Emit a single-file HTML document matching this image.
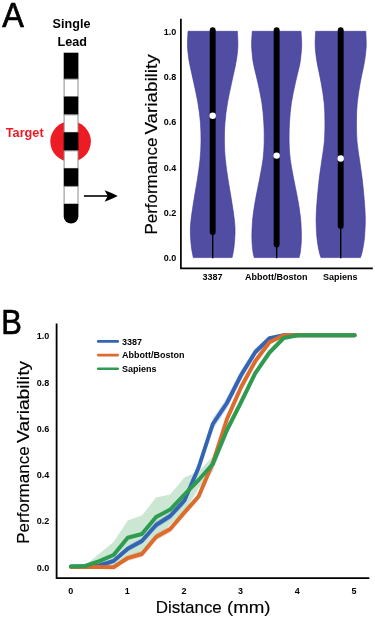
<!DOCTYPE html><html><head><meta charset="utf-8"><title>Figure</title><style>html,body{margin:0;padding:0;background:#fff}svg{display:block}text{font-family:"Liberation Sans",Arial,sans-serif;fill:#000}.b{font-weight:bold}.lab text{stroke:#000;stroke-width:0.15px}.big{stroke:#000;stroke-width:0.7px}</style></head><body>
<svg width="375" height="618" viewBox="0 0 375 618">
<rect width="375" height="618" fill="#fff"/>
<text class="big" x="2.3" y="27.3" font-size="35.5" textLength="21.6" lengthAdjust="spacingAndGlyphs">A</text>
<text class="big" x="1.2" y="334.3" font-size="35.5" textLength="20.6" lengthAdjust="spacingAndGlyphs">B</text>
<text class="b" x="71.5" y="28" font-size="12.6" text-anchor="middle">Single</text>
<text class="b" x="72.3" y="45.9" font-size="12.6" text-anchor="middle">Lead</text>
<circle cx="70.6" cy="141.5" r="20.3" fill="#ed1c24"/>
<text class="b" x="5.8" y="137.4" font-size="12.7" style="fill:#ed1c24">Target</text>
<rect x="63.7" y="52.7" width="14.7" height="26.4" fill="#000"/>
<rect x="64.10000000000001" y="79.1" width="13.9" height="17.6" fill="#fff" stroke="#8c8c8c" stroke-width="1"/>
<rect x="63.7" y="96.7" width="14.7" height="18.1" fill="#000"/>
<rect x="64.10000000000001" y="114.8" width="13.9" height="17.6" fill="#fff" stroke="#8c8c8c" stroke-width="1"/>
<rect x="63.7" y="132.4" width="14.7" height="18.4" fill="#000"/>
<rect x="64.10000000000001" y="150.8" width="13.9" height="17.6" fill="#fff" stroke="#8c8c8c" stroke-width="1"/>
<rect x="63.7" y="168.4" width="14.7" height="18.0" fill="#000"/>
<rect x="64.10000000000001" y="186.4" width="13.9" height="17.5" fill="#fff" stroke="#8c8c8c" stroke-width="1"/>
<path d="M63.7,203.9H78.4V216.25A7.35,7.35 0 0 1 63.7,216.25Z" fill="#000"/>
<line x1="83.9" y1="196" x2="109" y2="196" stroke="#000" stroke-width="1.6"/>
<path d="M117.8,196Q111.5,192.8 104.6,190.3L107.8,196L104.6,201.7Q111.5,199.2 117.8,196Z" fill="#000"/>
<path d="M180.9,18.8V268.3H372.8" fill="none" stroke="#000" stroke-width="1.7"/>
<text class="b" x="176.3" y="261.45" font-size="9" text-anchor="end">0.0</text>
<text class="b" x="176.3" y="216.11" font-size="9" text-anchor="end">0.2</text>
<text class="b" x="176.3" y="170.77" font-size="9" text-anchor="end">0.4</text>
<text class="b" x="176.3" y="125.43" font-size="9" text-anchor="end">0.6</text>
<text class="b" x="176.3" y="80.09" font-size="9" text-anchor="end">0.8</text>
<text class="b" x="176.3" y="34.75" font-size="9" text-anchor="end">1.0</text>
<path d="M188.00,31.30C187.92,33.48 187.47,40.58 187.50,44.40C187.53,48.22 187.83,50.95 188.20,54.20C188.57,57.45 188.75,59.05 189.70,63.90C190.65,68.75 192.53,76.82 193.90,83.30C195.27,89.78 196.82,96.32 197.90,102.80C198.98,109.28 199.88,115.72 200.40,122.20C200.92,128.68 201.06,135.50 201.00,141.70C200.94,147.90 200.64,153.20 200.05,159.40C199.46,165.60 198.42,172.42 197.45,178.90C196.47,185.38 195.22,191.82 194.20,198.30C193.17,204.78 191.94,212.28 191.30,217.80C190.66,223.32 190.33,226.53 190.35,231.40C190.37,236.27 190.91,242.63 191.40,247.00C191.89,251.37 192.98,255.83 193.30,257.60L232.10,257.60C232.42,255.83 233.51,251.37 234.00,247.00C234.49,242.63 235.03,236.27 235.05,231.40C235.07,226.53 234.74,223.32 234.10,217.80C233.46,212.28 232.22,204.78 231.20,198.30C230.17,191.82 228.92,185.38 227.95,178.90C226.97,172.42 225.94,165.60 225.35,159.40C224.76,153.20 224.46,147.90 224.40,141.70C224.34,135.50 224.48,128.68 225.00,122.20C225.52,115.72 226.42,109.28 227.50,102.80C228.58,96.32 230.13,89.78 231.50,83.30C232.87,76.82 234.75,68.75 235.70,63.90C236.65,59.05 236.83,57.45 237.20,54.20C237.57,50.95 237.87,48.22 237.90,44.40C237.93,40.58 237.48,33.48 237.40,31.30Z" fill="#504da3" stroke="#3936a0" stroke-width="0.6" stroke-linejoin="round"/>
<path d="M252.25,31.30C252.14,33.48 251.60,40.58 251.60,44.40C251.60,48.22 251.93,50.95 252.25,54.20C252.57,57.45 252.54,59.05 253.50,63.90C254.46,68.75 256.60,76.82 258.00,83.30C259.40,89.78 260.93,96.32 261.90,102.80C262.87,109.28 263.42,115.72 263.80,122.20C264.18,128.68 264.33,135.50 264.20,141.70C264.07,147.90 263.77,153.20 263.00,159.40C262.23,165.60 260.81,172.42 259.60,178.90C258.39,185.38 256.88,191.82 255.75,198.30C254.62,204.78 253.44,211.32 252.80,217.80C252.16,224.28 251.90,231.70 251.90,237.20C251.90,242.70 252.42,247.40 252.80,250.80C253.18,254.20 253.97,256.47 254.20,257.60L299.10,257.60C299.33,256.47 300.12,254.20 300.50,250.80C300.88,247.40 301.40,242.70 301.40,237.20C301.40,231.70 301.14,224.28 300.50,217.80C299.86,211.32 298.68,204.78 297.55,198.30C296.42,191.82 294.91,185.38 293.70,178.90C292.49,172.42 291.07,165.60 290.30,159.40C289.53,153.20 289.23,147.90 289.10,141.70C288.97,135.50 289.12,128.68 289.50,122.20C289.88,115.72 290.43,109.28 291.40,102.80C292.37,96.32 293.90,89.78 295.30,83.30C296.70,76.82 298.84,68.75 299.80,63.90C300.76,59.05 300.73,57.45 301.05,54.20C301.37,50.95 301.70,48.22 301.70,44.40C301.70,40.58 301.16,33.48 301.05,31.30Z" fill="#504da3" stroke="#3936a0" stroke-width="0.6" stroke-linejoin="round"/>
<path d="M315.60,31.30C315.52,33.48 315.10,40.58 315.15,44.40C315.20,48.22 315.53,50.95 315.90,54.20C316.27,57.45 316.46,59.05 317.35,63.90C318.24,68.75 320.12,76.82 321.25,83.30C322.38,89.78 323.53,96.32 324.15,102.80C324.77,109.28 324.92,115.72 324.95,122.20C324.98,128.68 324.85,135.50 324.35,141.70C323.85,147.90 322.81,153.20 321.95,159.40C321.09,165.60 319.97,172.42 319.20,178.90C318.43,185.38 317.82,191.82 317.30,198.30C316.78,204.78 316.17,211.32 316.10,217.80C316.03,224.28 316.42,231.70 316.90,237.20C317.38,242.70 318.32,247.40 319.00,250.80C319.68,254.20 320.62,256.47 320.95,257.60L360.45,257.60C360.77,256.47 361.72,254.20 362.40,250.80C363.07,247.40 364.02,242.70 364.50,237.20C364.98,231.70 365.37,224.28 365.30,217.80C365.23,211.32 364.62,204.78 364.10,198.30C363.58,191.82 362.97,185.38 362.20,178.90C361.43,172.42 360.31,165.60 359.45,159.40C358.59,153.20 357.55,147.90 357.05,141.70C356.55,135.50 356.42,128.68 356.45,122.20C356.48,115.72 356.63,109.28 357.25,102.80C357.87,96.32 359.02,89.78 360.15,83.30C361.28,76.82 363.16,68.75 364.05,63.90C364.94,59.05 365.13,57.45 365.50,54.20C365.87,50.95 366.20,48.22 366.25,44.40C366.30,40.58 365.88,33.48 365.80,31.30Z" fill="#504da3" stroke="#3936a0" stroke-width="0.6" stroke-linejoin="round"/>
<line x1="212.7" y1="30.3" x2="212.7" y2="232" stroke="#000" stroke-width="5.9" stroke-linecap="round"/><line x1="212.7" y1="232" x2="212.7" y2="258.2" stroke="#000" stroke-width="1.4"/><circle cx="212.7" cy="115.8" r="3.2" fill="#fff"/>
<line x1="276.65" y1="30.3" x2="276.65" y2="244.5" stroke="#000" stroke-width="5.9" stroke-linecap="round"/><line x1="276.65" y1="244.5" x2="276.65" y2="258.2" stroke="#000" stroke-width="1.4"/><circle cx="276.65" cy="155.6" r="3.2" fill="#fff"/>
<line x1="340.7" y1="30.3" x2="340.7" y2="226" stroke="#000" stroke-width="5.9" stroke-linecap="round"/><line x1="340.7" y1="226" x2="340.7" y2="258.2" stroke="#000" stroke-width="1.4"/><circle cx="340.7" cy="158.5" r="3.2" fill="#fff"/>
<text class="b" x="212.6" y="280" font-size="9" text-anchor="middle">3387</text>
<text class="b" x="276.3" y="280" font-size="9" text-anchor="middle">Abbott/Boston</text>
<text class="b" x="340.3" y="280" font-size="9" text-anchor="middle">Sapiens</text>
<g transform="translate(157.2,0) rotate(-90)" class="lab"><text x="-234.6" y="0" font-size="17" textLength="97" lengthAdjust="spacingAndGlyphs">Performance</text><text x="-134.6" y="0" font-size="17" textLength="80.2" lengthAdjust="spacingAndGlyphs">Variability</text></g>
<polygon points="71.00,566.50 85.18,566.50 99.36,564.50 113.54,559.00 127.72,545.70 141.90,538.00 156.08,521.50 170.26,512.50 184.44,496.50 198.62,462.50 212.80,418.50 226.98,397.50 241.16,370.00 255.34,348.00 269.52,336.20 283.70,335.20 297.88,335.20 312.06,335.20 326.24,335.20 340.42,335.20 354.60,335.20 354.60,335.20 340.42,335.20 326.24,335.20 312.06,335.20 297.88,335.20 283.70,335.20 269.52,340.20 255.34,356.00 241.16,380.00 226.98,408.50 212.80,429.50 198.62,472.50 184.44,504.50 170.26,519.50 156.08,528.50 141.90,544.00 127.72,551.70 113.54,563.00 99.36,566.50 85.18,566.50 71.00,566.50" fill="#3465b5" fill-opacity="0.25"/>
<polygon points="71.00,567.00 85.18,567.00 99.36,567.00 113.54,566.20 127.72,555.00 141.90,551.00 156.08,533.50 170.26,525.50 184.44,509.00 198.62,493.00 212.80,459.00 226.98,415.00 241.16,383.00 255.34,357.50 269.52,339.80 283.70,335.30 297.88,335.20 312.06,335.20 326.24,335.20 340.42,335.20 354.60,335.20 354.60,335.20 340.42,335.20 326.24,335.20 312.06,335.20 297.88,335.20 283.70,335.30 269.52,344.80 255.34,364.50 241.16,391.00 226.98,423.00 212.80,467.00 198.62,500.00 184.44,516.00 170.26,532.50 156.08,540.50 141.90,557.00 127.72,561.00 113.54,567.00 99.36,567.00 85.18,567.00 71.00,567.00" fill="#dd6b2e" fill-opacity="0.25"/>
<polygon points="71.00,566.50 85.18,565.50 99.36,553.70 113.54,542.00 127.72,520.50 141.90,515.50 156.08,497.50 170.26,494.40 184.44,477.50 198.62,471.50 212.80,456.50 226.98,425.00 241.16,399.00 255.34,371.00 269.52,351.00 283.70,337.50 297.88,335.20 312.06,335.20 326.24,335.20 340.42,335.20 354.60,335.20 354.60,335.20 340.42,335.20 326.24,335.20 312.06,335.20 297.88,335.20 283.70,338.50 269.52,354.00 255.34,375.00 241.16,405.00 226.98,435.00 212.80,471.50 198.62,488.50 184.44,511.50 170.26,524.80 156.08,536.50 141.90,552.50 127.72,555.10 113.54,567.00 99.36,567.00 85.18,566.50 71.00,566.50" fill="#2e9b50" fill-opacity="0.25"/>
<polyline points="71.00,566.50 85.18,566.50 99.36,565.50 113.54,561.00 127.72,548.70 141.90,541.00 156.08,525.00 170.26,516.00 184.44,500.50 198.62,467.50 212.80,424.00 226.98,403.00 241.16,375.00 255.34,352.00 269.52,338.20 283.70,335.20 297.88,335.20 312.06,335.20 326.24,335.20 340.42,335.20 354.60,335.20" fill="none" stroke="#3465b5" stroke-width="4" stroke-linejoin="round" stroke-linecap="round"/>
<polyline points="71.00,567.00 85.18,567.00 99.36,567.00 113.54,567.20 127.72,558.00 141.90,554.00 156.08,537.00 170.26,529.00 184.44,512.50 198.62,496.50 212.80,463.00 226.98,419.00 241.16,387.00 255.34,361.00 269.52,342.30 283.70,335.30 297.88,335.20 312.06,335.20 326.24,335.20 340.42,335.20 354.60,335.20" fill="none" stroke="#dd6b2e" stroke-width="4" stroke-linejoin="round" stroke-linecap="round"/>
<polyline points="71.00,566.50 85.18,566.00 99.36,561.20 113.54,555.00 127.72,537.80 141.90,534.00 156.08,517.00 170.26,509.60 184.44,494.50 198.62,480.00 212.80,464.00 226.98,430.00 241.16,402.00 255.34,373.00 269.52,352.50 283.70,338.00 297.88,335.20 312.06,335.20 326.24,335.20 340.42,335.20 354.60,335.20" fill="none" stroke="#2e9b50" stroke-width="4" stroke-linejoin="round" stroke-linecap="round"/>
<path d="M56.6,323.5V578.2H369.3" fill="none" stroke="#000" stroke-width="1.8"/>
<text class="b" x="49.3" y="570.65" font-size="9" text-anchor="end">0.0</text>
<text class="b" x="49.3" y="524.39" font-size="9" text-anchor="end">0.2</text>
<text class="b" x="49.3" y="478.13" font-size="9" text-anchor="end">0.4</text>
<text class="b" x="49.3" y="431.87" font-size="9" text-anchor="end">0.6</text>
<text class="b" x="49.3" y="385.61" font-size="9" text-anchor="end">0.8</text>
<text class="b" x="49.3" y="339.35" font-size="9" text-anchor="end">1.0</text>
<text class="b" x="70.70" y="593.8" font-size="9" text-anchor="middle">0</text>
<text class="b" x="127.34" y="593.8" font-size="9" text-anchor="middle">1</text>
<text class="b" x="183.98" y="593.8" font-size="9" text-anchor="middle">2</text>
<text class="b" x="240.62" y="593.8" font-size="9" text-anchor="middle">3</text>
<text class="b" x="297.26" y="593.8" font-size="9" text-anchor="middle">4</text>
<text class="b" x="353.90" y="593.8" font-size="9" text-anchor="middle">5</text>
<g class="lab"><text x="155.8" y="613.3" font-size="17" textLength="66" lengthAdjust="spacingAndGlyphs">Distance</text><text x="227" y="613.3" font-size="17" textLength="43.6" lengthAdjust="spacingAndGlyphs">(mm)</text></g>
<g transform="translate(29.1,0) rotate(-90)" class="lab"><text x="-543.8" y="0" font-size="17" textLength="97.5" lengthAdjust="spacingAndGlyphs">Performance</text><text x="-442.9" y="0" font-size="17" textLength="82" lengthAdjust="spacingAndGlyphs">Variability</text></g>
<line x1="98.2" y1="341.4" x2="117.8" y2="341.4" stroke="#3465b5" stroke-width="2.6" stroke-linecap="round"/>
<text class="b" x="122" y="344.6" font-size="9">3387</text>
<line x1="98.2" y1="355.1" x2="117.8" y2="355.1" stroke="#dd6b2e" stroke-width="2.6" stroke-linecap="round"/>
<text class="b" x="122" y="358.3" font-size="9">Abbott/Boston</text>
<line x1="98.2" y1="368.8" x2="117.8" y2="368.8" stroke="#2e9b50" stroke-width="2.6" stroke-linecap="round"/>
<text class="b" x="122" y="372.0" font-size="9">Sapiens</text>
</svg></body></html>
